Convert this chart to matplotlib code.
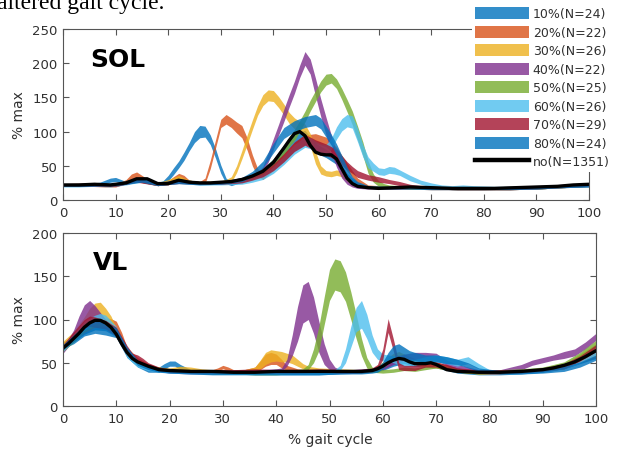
import numpy as np
import matplotlib
matplotlib.use("Agg")
import matplotlib.pyplot as plt
from matplotlib.patches import Patch
from matplotlib.lines import Line2D

plt.rcParams['font.family'] = ['DejaVu Sans']

# ---------------------------------------------------------------------------
# Group labels and colours (perturbation timing, number of strides)
group_labels = ['10%(N=24)', '20%(N=22)', '30%(N=26)', '40%(N=22)',
                '50%(N=25)', '60%(N=26)', '70%(N=29)', '80%(N=24)']
baseline_label = 'no(N=1351)'
group_colors = ['#0072BD', '#D95319', '#EDB120', '#7E2F8E',
                '#77AC30', '#4DBEEE', '#A2142F', '#0072BD']

# ---------------------------------------------------------------------------
# SOL: rows are (gait cycle %, mean % max, spread)
sol_no = [(0, 22), (3, 22), (6, 23), (9, 22), (12, 25), (14, 31), (16, 31), (18, 24),
          (20, 24), (22, 29), (24, 26), (26, 25), (28, 25), (30, 26), (32, 27), (34, 30),
          (36, 35), (38, 42), (40, 55), (42, 76), (43, 87), (44, 97), (45, 100), (46, 94),
          (47, 80), (48, 70), (49, 67), (50, 66), (51, 66), (52, 60), (53, 46), (54, 32),
          (55, 24), (56, 20), (58, 18), (60, 17), (63, 18), (66, 19), (70, 18), (74, 17),
          (78, 17), (82, 17), (86, 18), (90, 19), (94, 20), (97, 22), (100, 23)]

sol_10 = [(0, 22, 2), (4, 22, 2), (7, 24, 2), (9, 29, 3), (10, 30, 3), (12, 25, 2), (14, 29, 3),
          (16, 30, 3), (18, 24, 2), (19, 25, 3), (20, 32, 4), (21, 42, 5), (22, 52, 5),
          (23, 64, 6), (24, 78, 6), (25, 92, 8), (26, 100, 9), (27, 100, 8), (28, 88, 7),
          (29, 68, 7), (30, 45, 6), (31, 28, 4), (32, 24, 3), (34, 29, 3), (36, 34, 4),
          (38, 42, 5), (40, 54, 6), (42, 74, 7), (44, 90, 8), (46, 94, 8), (48, 76, 7),
          (50, 68, 6), (52, 58, 6), (54, 34, 5), (56, 22, 3), (58, 19, 2), (62, 18, 2),
          (66, 18, 2), (70, 18, 2), (75, 17, 2), (80, 17, 2), (85, 17, 2), (90, 18, 2),
          (95, 20, 2), (100, 22, 2)]

sol_20 = [(0, 22, 2), (5, 22, 2), (8, 21, 2), (10, 21, 2), (12, 27, 3), (13, 34, 4), (14, 37, 4),
          (15, 33, 3), (16, 28, 3), (18, 23, 2), (20, 25, 3), (21, 31, 3), (22, 36, 3),
          (23, 33, 3), (24, 27, 2), (26, 25, 2), (27, 28, 4), (28, 52, 6), (29, 82, 6),
          (30, 112, 6), (31, 118, 7), (32, 113, 7), (33, 106, 8), (34, 100, 9), (35, 82, 9),
          (36, 58, 8), (37, 40, 6), (38, 34, 4), (40, 48, 5), (42, 62, 6), (44, 78, 6),
          (46, 88, 7), (48, 90, 7), (50, 85, 7), (52, 70, 7), (54, 48, 6), (56, 28, 4),
          (58, 20, 2), (62, 18, 2), (66, 18, 2), (70, 17, 2), (75, 17, 2), (80, 17, 2),
          (85, 17, 2), (90, 18, 2), (95, 20, 2), (100, 21, 2)]

sol_30 = [(0, 22, 2), (5, 23, 2), (10, 22, 2), (14, 30, 3), (16, 29, 3), (18, 23, 2), (20, 27, 3),
          (22, 33, 3), (24, 27, 2), (26, 25, 2), (30, 26, 2), (31, 27, 3), (32, 30, 4),
          (33, 45, 5), (34, 66, 6), (35, 88, 7), (36, 110, 7), (37, 131, 7), (38, 146, 8),
          (39, 153, 8), (40, 152, 8), (41, 143, 8), (42, 132, 8), (43, 120, 8), (44, 112, 8),
          (45, 107, 8), (46, 103, 8), (47, 88, 9), (48, 62, 9), (49, 44, 6), (50, 39, 4),
          (51, 38, 4), (52, 40, 4), (53, 38, 4), (54, 30, 3), (55, 24, 3), (56, 21, 2),
          (58, 19, 2), (62, 18, 2), (66, 18, 2), (70, 18, 2), (75, 17, 2), (80, 17, 2),
          (85, 17, 2), (90, 18, 2), (95, 20, 2), (100, 22, 2)]

sol_40 = [(0, 22, 2), (5, 23, 2), (10, 22, 2), (14, 30, 3), (18, 23, 2), (22, 28, 3), (26, 25, 2),
          (30, 25, 2), (34, 30, 3), (36, 34, 3), (37, 38, 3), (38, 45, 4), (39, 62, 7),
          (40, 82, 8), (41, 103, 8), (42, 124, 9), (43, 145, 9), (44, 165, 9), (45, 188, 9),
          (46, 207, 10), (47, 195, 11), (48, 165, 13), (49, 135, 13), (50, 108, 13),
          (51, 82, 13), (52, 58, 10), (53, 38, 6), (54, 26, 3), (55, 21, 2), (56, 19, 2),
          (58, 18, 2), (62, 18, 2), (66, 18, 2), (70, 18, 2), (75, 17, 2), (80, 17, 2),
          (85, 18, 2), (90, 19, 2), (95, 21, 2), (100, 23, 2)]

sol_50 = [(0, 22, 2), (5, 22, 2), (10, 22, 2), (14, 30, 3), (18, 23, 2), (22, 28, 3), (26, 25, 2),
          (30, 25, 2), (34, 29, 3), (36, 33, 3), (38, 42, 4), (40, 55, 5), (42, 72, 6),
          (43, 85, 7), (44, 95, 8), (45, 108, 8), (46, 122, 8), (47, 138, 8), (48, 152, 8),
          (49, 166, 8), (50, 176, 8), (51, 178, 7), (52, 170, 7), (53, 155, 8), (54, 138, 9),
          (55, 120, 10), (56, 98, 10), (57, 75, 10), (58, 48, 9), (59, 32, 6), (60, 24, 4),
          (61, 21, 3), (62, 20, 2), (66, 18, 2), (70, 18, 2), (75, 17, 2), (80, 17, 2),
          (85, 18, 2), (90, 18, 2), (95, 20, 2), (100, 22, 2)]

sol_60 = [(0, 21, 2), (3, 21, 2), (6, 22, 2), (9, 21, 2), (12, 24, 2), (14, 28, 3), (16, 30, 3),
          (18, 23, 2), (22, 26, 2), (26, 24, 2), (30, 24, 2), (34, 26, 3), (36, 29, 3),
          (38, 34, 4), (40, 44, 5), (42, 58, 6), (44, 74, 7), (46, 85, 8), (47, 83, 8),
          (48, 78, 8), (49, 74, 8), (50, 73, 8), (51, 82, 8), (52, 98, 9), (53, 110, 9),
          (54, 116, 9), (55, 114, 9), (56, 95, 10), (57, 72, 9), (58, 55, 8), (59, 48, 6),
          (60, 42, 5), (61, 41, 5), (62, 44, 5), (63, 43, 5), (64, 40, 4), (66, 32, 4),
          (68, 26, 3), (70, 22, 3), (72, 20, 2), (74, 19, 2), (76, 20, 2), (78, 19, 2),
          (82, 18, 2), (86, 18, 2), (90, 18, 2), (95, 20, 2), (100, 21, 2)]

sol_70 = [(0, 22, 2), (5, 22, 2), (10, 22, 2), (14, 29, 3), (18, 23, 2), (22, 27, 3), (26, 25, 2),
          (30, 25, 2), (34, 28, 3), (36, 32, 3), (38, 38, 4), (40, 48, 5), (42, 62, 6),
          (44, 78, 7), (46, 88, 8), (48, 80, 8), (50, 74, 8), (52, 66, 8), (53, 58, 7),
          (54, 50, 6), (55, 44, 5), (56, 38, 5), (58, 33, 4), (60, 30, 4), (62, 27, 3),
          (64, 24, 3), (66, 21, 2), (68, 19, 2), (70, 18, 2), (75, 17, 2), (80, 17, 2),
          (85, 17, 2), (90, 18, 2), (95, 20, 2), (100, 22, 2)]

sol_80 = [(0, 22, 2), (5, 22, 2), (10, 23, 2), (15, 29, 3), (18, 23, 2), (22, 27, 3), (26, 24, 2),
          (30, 25, 2), (34, 30, 3), (36, 38, 4), (38, 52, 5), (40, 76, 7), (42, 98, 8),
          (44, 108, 8), (46, 114, 8), (48, 117, 8), (49, 112, 8), (50, 100, 8), (51, 88, 8),
          (52, 74, 8), (53, 58, 7), (54, 42, 6), (55, 30, 4), (56, 24, 3), (58, 19, 2),
          (62, 18, 2), (66, 18, 2), (70, 17, 2), (75, 17, 2), (80, 17, 2), (85, 17, 2),
          (90, 18, 2), (95, 20, 2), (100, 21, 2)]

# ---------------------------------------------------------------------------
# VL: rows are (gait cycle %, mean % max, spread)
vl_no = [(0, 67), (1, 72), (2, 78), (3, 84), (4, 91), (5, 96), (6, 99), (7, 99), (8, 96), (9, 91),
         (10, 83), (11, 72), (12, 62), (13, 55), (14, 51), (16, 46), (18, 42), (20, 41),
         (24, 40), (28, 40), (32, 39), (36, 39), (40, 40), (44, 40), (48, 40), (52, 40),
         (56, 40), (58, 41), (59, 43), (60, 46), (61, 50), (62, 53), (63, 55), (64, 54),
         (65, 51), (66, 49), (68, 49), (69, 50), (70, 48), (71, 45), (72, 42), (74, 40),
         (78, 39), (82, 39), (86, 40), (90, 42), (92, 44), (94, 47), (96, 51), (98, 57),
         (100, 64)]

vl_10 = [(0, 70, 4), (2, 76, 4), (4, 86, 5), (6, 90, 6), (8, 87, 5), (10, 84, 5), (12, 60, 4),
         (14, 48, 3), (16, 42, 3), (18, 42, 3), (19, 46, 3), (20, 49, 3), (21, 49, 3),
         (22, 45, 3), (24, 40, 2), (28, 39, 2), (32, 39, 2), (36, 38, 2), (40, 38, 2),
         (44, 38, 2), (48, 38, 2), (52, 39, 2), (56, 40, 2), (58, 41, 2), (60, 44, 3),
         (62, 50, 4), (64, 53, 4), (66, 50, 4), (68, 48, 3), (70, 47, 3), (74, 41, 3),
         (78, 38, 2), (82, 38, 2), (86, 39, 2), (90, 41, 2), (94, 46, 3), (97, 52, 3),
         (100, 58, 3)]

vl_20 = [(0, 70, 3), (2, 80, 4), (4, 90, 5), (6, 96, 5), (8, 97, 5), (9, 96, 5), (10, 93, 5),
         (11, 80, 5), (12, 64, 4), (14, 53, 3), (16, 46, 3), (18, 43, 2), (20, 41, 2),
         (24, 40, 2), (28, 40, 2), (29, 42, 2), (30, 45, 2), (31, 43, 2), (32, 40, 2),
         (34, 40, 2), (36, 42, 3), (37, 47, 5), (38, 53, 7), (39, 55, 7), (40, 54, 6),
         (41, 49, 5), (42, 44, 3), (44, 41, 2), (46, 40, 2), (50, 40, 2), (54, 40, 2),
         (58, 41, 2), (60, 46, 3), (62, 55, 4), (64, 56, 4), (66, 52, 3), (68, 50, 3),
         (70, 48, 3), (74, 42, 2), (78, 39, 2), (82, 39, 2), (86, 40, 2), (90, 42, 2),
         (94, 46, 3), (97, 53, 3), (100, 60, 4)]

vl_30 = [(0, 72, 3), (2, 82, 4), (4, 96, 7), (5, 105, 8), (6, 110, 9), (7, 112, 8), (8, 106, 7),
         (9, 98, 6), (10, 85, 5), (12, 62, 4), (14, 50, 3), (16, 45, 2), (18, 43, 2),
         (20, 42, 2), (22, 44, 2), (24, 43, 2), (26, 41, 2), (28, 40, 2), (32, 40, 2),
         (34, 40, 2), (36, 42, 3), (37, 48, 5), (38, 55, 7), (39, 58, 7), (40, 58, 6),
         (41, 57, 6), (42, 56, 5), (43, 54, 5), (44, 50, 4), (45, 46, 3), (46, 44, 2),
         (48, 42, 2), (52, 41, 2), (56, 40, 2), (58, 41, 2), (60, 48, 3), (62, 58, 3),
         (63, 60, 3), (64, 57, 3), (66, 50, 3), (68, 48, 3), (70, 47, 3), (74, 41, 2),
         (78, 39, 2), (82, 40, 2), (86, 40, 2), (90, 42, 2), (94, 46, 3), (97, 56, 4),
         (100, 68, 4)]

vl_40 = [(0, 64, 3), (2, 82, 6), (3, 95, 9), (4, 105, 12), (5, 110, 12), (6, 106, 10),
         (7, 100, 8), (8, 95, 5), (10, 84, 4), (12, 62, 4), (14, 50, 3), (16, 44, 2),
         (20, 40, 2), (24, 39, 2), (28, 39, 2), (32, 40, 2), (36, 40, 2), (40, 41, 2),
         (41, 42, 2), (42, 50, 4), (43, 70, 12), (44, 95, 20), (45, 118, 22), (46, 122, 22),
         (47, 105, 21), (48, 80, 18), (49, 60, 12), (50, 48, 6), (51, 42, 3), (52, 40, 2),
         (54, 40, 2), (56, 41, 2), (58, 42, 2), (60, 45, 3), (62, 52, 4), (64, 56, 4),
         (66, 58, 4), (68, 58, 4), (70, 57, 4), (72, 50, 3), (74, 45, 3), (78, 40, 2),
         (82, 40, 2), (86, 45, 3), (88, 50, 3), (90, 53, 3), (92, 56, 3), (94, 59, 4),
         (96, 62, 4), (98, 70, 4), (100, 80, 4)]

vl_50 = [(0, 66, 3), (2, 78, 4), (4, 90, 4), (6, 98, 5), (8, 96, 4), (10, 84, 4), (12, 62, 3),
         (14, 50, 3), (16, 45, 2), (20, 41, 2), (24, 40, 2), (28, 39, 2), (32, 39, 2),
         (36, 38, 2), (40, 38, 2), (44, 40, 2), (45, 41, 2), (46, 45, 3), (47, 58, 8),
         (48, 78, 14), (49, 110, 16), (50, 140, 18), (51, 152, 18), (52, 150, 18),
         (53, 138, 17), (54, 116, 16), (55, 92, 14), (56, 68, 10), (57, 50, 6), (58, 42, 3),
         (60, 40, 2), (62, 41, 2), (64, 43, 2), (66, 42, 2), (68, 44, 2), (70, 46, 2),
         (74, 41, 2), (78, 39, 2), (82, 40, 2), (86, 41, 2), (90, 43, 2), (94, 48, 3),
         (97, 58, 4), (100, 72, 4)]

vl_60 = [(0, 66, 3), (2, 80, 4), (4, 93, 5), (6, 100, 5), (7, 102, 5), (8, 100, 5), (10, 88, 4),
         (12, 60, 4), (14, 48, 3), (16, 43, 2), (20, 40, 2), (24, 39, 2), (28, 39, 2),
         (32, 39, 2), (36, 39, 2), (40, 39, 2), (44, 39, 2), (48, 39, 2), (50, 39, 2),
         (51, 40, 2), (52, 44, 3), (53, 58, 8), (54, 80, 12), (55, 100, 14), (56, 106, 16),
         (57, 92, 14), (58, 72, 10), (59, 60, 6), (60, 56, 4), (62, 54, 4), (64, 50, 4),
         (66, 50, 4), (68, 53, 4), (70, 55, 4), (72, 53, 4), (74, 50, 4), (76, 53, 4),
         (78, 46, 3), (80, 40, 2), (84, 39, 2), (88, 40, 2), (92, 43, 2), (96, 50, 3),
         (100, 62, 4)]

vl_70 = [(0, 68, 3), (2, 82, 4), (4, 95, 5), (5, 98, 6), (6, 97, 6), (8, 94, 5), (10, 86, 5),
         (12, 66, 4), (13, 58, 3), (14, 56, 3), (15, 52, 3), (16, 47, 3), (18, 43, 2),
         (20, 41, 2), (24, 40, 2), (28, 40, 2), (32, 40, 2), (36, 41, 2), (40, 40, 2),
         (44, 40, 2), (48, 41, 2), (52, 40, 2), (56, 40, 2), (58, 42, 2), (59, 45, 3),
         (60, 60, 6), (61, 93, 8), (62, 70, 7), (63, 46, 4), (64, 44, 3), (66, 44, 3),
         (68, 48, 3), (70, 48, 3), (72, 45, 3), (74, 42, 2), (78, 40, 2), (82, 40, 2),
         (86, 40, 2), (90, 42, 2), (94, 46, 3), (97, 55, 3), (100, 67, 4)]

vl_80 = [(0, 68, 3), (2, 78, 4), (4, 88, 5), (6, 94, 6), (8, 92, 5), (10, 85, 5), (12, 64, 4),
         (14, 50, 3), (16, 44, 2), (18, 41, 2), (20, 40, 2), (24, 39, 2), (28, 38, 2),
         (32, 38, 2), (36, 38, 2), (40, 38, 2), (44, 38, 2), (48, 38, 2), (52, 39, 2),
         (56, 39, 2), (58, 40, 2), (59, 42, 3), (60, 47, 4), (61, 56, 6), (62, 62, 8),
         (63, 64, 8), (64, 61, 7), (65, 58, 6), (66, 57, 5), (68, 55, 4), (70, 55, 4),
         (72, 53, 4), (74, 51, 3), (76, 47, 3), (78, 42, 2), (82, 39, 2), (86, 39, 2),
         (90, 40, 2), (94, 43, 3), (97, 48, 3), (100, 56, 3)]

sol_groups = [sol_10, sol_20, sol_30, sol_40, sol_50, sol_60, sol_70, sol_80]
vl_groups = [vl_10, vl_20, vl_30, vl_40, vl_50, vl_60, vl_70, vl_80]

x_ticks = list(range(0, 101, 10))
sol_yticks = [0, 50, 100, 150, 200, 250]
vl_yticks = [0, 50, 100, 150, 200]

# ---------------------------------------------------------------------------
W, H = 618, 452
fig = plt.figure(figsize=(W / 100, H / 100), dpi=100)
fig.patch.set_facecolor('white')

text_gray = '#303030'
axis_gray = '#555555'
band_alpha = 0.8


def px_box(left, top, right, bottom):
    return [left / W, 1 - bottom / H, (right - left) / W, (bottom - top) / H]


def draw_panel(ax, groups, baseline, yticks, name, name_xy):
    for rows, color in zip(groups, group_colors):
        arr = np.array(rows, dtype=float)
        x, m, s = arr[:, 0], arr[:, 1], arr[:, 2]
        ax.fill_between(x, m - s, m + s, color=color, alpha=band_alpha, lw=0)
    base = np.array(baseline, dtype=float)
    ax.plot(base[:, 0], base[:, 1], color='black', lw=2.4, solid_capstyle='round')
    ax.set_xlim(0, 100)
    ax.set_ylim(yticks[0], yticks[-1])
    ax.set_xticks(x_ticks)
    ax.set_yticks(yticks)
    ax.tick_params(direction='in', top=True, right=True, length=4, width=0.8,
                   colors=axis_gray, labelcolor=text_gray, labelsize=9.5, pad=4)
    for sp in ax.spines.values():
        sp.set_color(axis_gray)
        sp.set_linewidth(0.8)
    ax.text(name_xy[0], name_xy[1], name, transform=ax.transAxes,
            fontsize=18, fontweight='bold', color='black', va='baseline', ha='left')


ax_sol = fig.add_axes(px_box(63, 30, 589, 201))
draw_panel(ax_sol, sol_groups, sol_no, sol_yticks, 'SOL', (0.051, 0.782))

ax_vl = fig.add_axes(px_box(63, 234, 596, 407))
draw_panel(ax_vl, vl_groups, vl_no, vl_yticks, 'VL', (0.056, 0.792))

# axis titles
for yc in (115.5, 320.5):
    fig.text(19 / W, 1 - yc / H, '% max', rotation=90, ha='center', va='center',
             fontsize=10, color=text_gray)
fig.text(330 / W, 1 - 440 / H, '% gait cycle', ha='center', va='center',
         fontsize=10, color=text_gray)

# running text above the figure
fig.text(-3 / W, 1 - 9.5 / H, 'altered gait cycle.', family='Liberation Serif',
         fontsize=17, color='black', ha='left', va='baseline')

# legend
handles = [Patch(facecolor=c, alpha=band_alpha, edgecolor='none') for c in group_colors]
handles.append(Line2D([0], [0], color='black', lw=3.2))
labels = group_labels + [baseline_label]
leg = fig.legend(handles, labels, loc='upper left',
                 bbox_to_anchor=(472 / W, 1 - 5 / H), bbox_transform=fig.transFigure,
                 fontsize=9, frameon=True, fancybox=False, framealpha=1,
                 facecolor='white', edgecolor='none', borderpad=0.25,
                 handlelength=4.3, handleheight=1.1, labelspacing=0.42,
                 handletextpad=0.3, borderaxespad=0)
for t in leg.get_texts():
    t.set_color(text_gray)

fig.savefig('out.png', dpi=100)
